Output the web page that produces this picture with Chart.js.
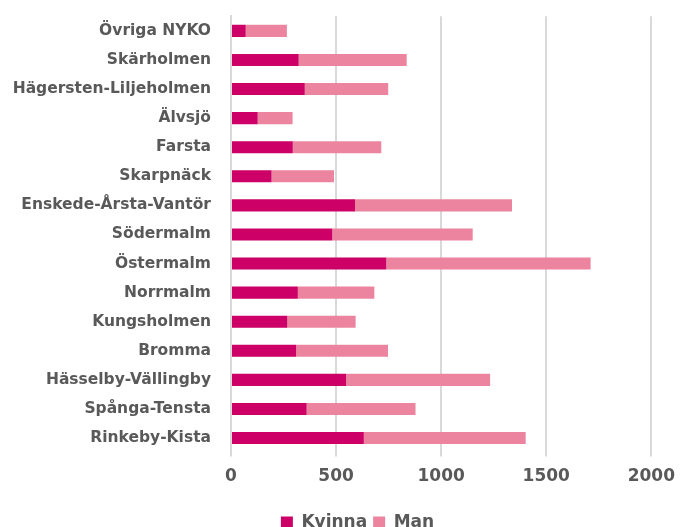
<!DOCTYPE html>
<html>
<head>
<meta charset="utf-8">
<script src="https://cdn.jsdelivr.net/npm/chart.js@4"></script>
<style>
  html, body { margin: 0; padding: 0; overflow: hidden; background: #fff; }
  #wrap { width: 685px; height: 546px; margin-top: -5px; }
</style>
</head>
<body>
<div id="wrap"><canvas id="chart"></canvas></div>
<script>
// stadsdelar, uppifrån och ned
const omraden = ['Övriga NYKO', 'Skärholmen', 'Hägersten-Liljeholmen', 'Älvsjö', 'Farsta',
  'Skarpnäck', 'Enskede-Årsta-Vantör', 'Södermalm', 'Östermalm', 'Norrmalm',
  'Kungsholmen', 'Bromma', 'Hässelby-Vällingby', 'Spånga-Tensta', 'Rinkeby-Kista'];
const kvinna = [70, 322, 351, 127, 294, 193, 590, 482, 739, 318, 268, 310, 548, 360, 632];
const man = [196, 514, 397, 166, 421, 297, 747, 668, 972, 364, 325, 437, 685, 518, 770];
const xTicks = [0, 500, 1000, 1500, 2000];

const grey = '#595959';
const fontFam = '"DejaVu Sans", sans-serif';

// flytta legenden lite åt höger, som i originalet
const legendShift = {
  id: 'legendShift',
  afterLayout(chart) {
    chart.legend.left += 29;
    chart.legend.right += 29;
  }
};

new Chart(document.getElementById('chart'), {
  type: 'bar',
  data: {
    labels: omraden,
    datasets: [
      { label: 'Kvinna', data: kvinna, backgroundColor: '#cc0066', borderWidth: 0 },
      { label: 'Man', data: man, backgroundColor: '#ec849f', borderWidth: 0 }
    ]
  },
  options: {
    indexAxis: 'y',
    responsive: true,
    maintainAspectRatio: false,
    animation: false,
    layout: { padding: { top: 2, right: 28, left: 0, bottom: 0 } },
    datasets: { bar: { categoryPercentage: 0.83, barPercentage: 0.5 } },
    scales: {
      x: {
        stacked: true,
        min: 0,
        max: 2000,
        afterBuildTicks: (s) => { s.ticks = xTicks.map(v => ({ value: v })); },
        afterFit: (s) => { s.height += 11; },
        grid: { color: '#d9d9d9', lineWidth: 2, drawTicks: true, tickLength: 4 },
        border: { display: false },
        ticks: {
          color: grey, padding: 10,
          font: { family: fontFam, size: 17, weight: 'bold' },
          callback: (v) => String(v)
        }
      },
      y: {
        stacked: true,
        afterFit: (s) => { s.width = 231; },
        grid: { display: false },
        border: { display: true, color: '#d9d9d9', width: 2 },
        ticks: { color: grey, padding: 12, font: { family: fontFam, size: 15.5, weight: 'bold' } }
      }
    },
    plugins: {
      tooltip: { enabled: false },
      legend: {
        position: 'bottom',
        labels: {
          color: grey,
          boxWidth: 12,
          boxHeight: 12,
          padding: 6,
          font: { family: fontFam, size: 17, weight: 'bold' }
        }
      }
    }
  },
  plugins: [legendShift]
});
</script>
</body>
</html>
